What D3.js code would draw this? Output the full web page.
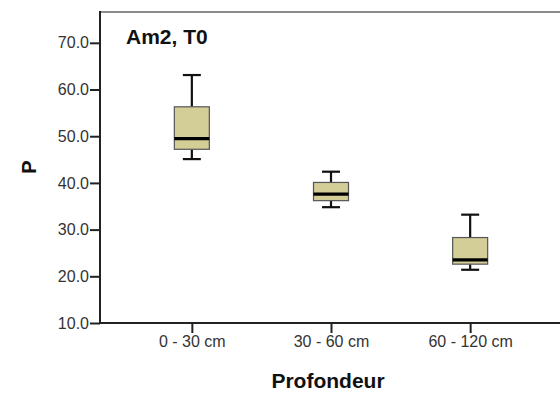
<!DOCTYPE html>
<html>
<head>
<meta charset="utf-8">
<script src="https://cdn.jsdelivr.net/npm/d3@7"></script>
<style>
  html, body { margin: 0; padding: 0; background: #fff; }
  svg { display: block; font-family: Arial, "Liberation Sans", sans-serif; }
</style>
</head>
<body>
<svg id="chart" width="560" height="394"></svg>
<script>
// Depth classes and the five-number summary of P for each
const categories = ["0 - 30 cm", "30 - 60 cm", "60 - 120 cm"];
const whiskerLow = [45.1, 34.8, 21.4];
const q1 = [47.2, 36.2, 22.6];
const median = [49.5, 37.6, 23.5];
const q3 = [56.3, 40.1, 28.3];
const whiskerHigh = [63.1, 42.4, 33.2];
const yTicks = [10, 20, 30, 40, 50, 60, 70];

const svg = d3.select("#chart");
const plotLeft = 100, plotRight = 562, plotTop = 12, plotBottom = 323;

const y = d3.scaleLinear().domain([10, 76.6]).range([plotBottom, plotTop]);
const x = d3.scalePoint().domain(categories).range([plotLeft, plotRight]).padding(0.66);

// Plot frame: grey on top and right, axes drawn separately
svg.append("path")
  .attr("d", `M${plotLeft},${plotTop}H${plotRight}V${plotBottom}`)
  .attr("fill", "none").attr("stroke", "#8c8c8c").attr("stroke-width", 2);

const yAxis = svg.append("g")
  .attr("transform", `translate(${plotLeft},0)`)
  .call(d3.axisLeft(y).tickValues(yTicks).tickFormat(d3.format(".1f")).tickSize(10).tickPadding(1));
const xAxis = svg.append("g")
  .attr("transform", `translate(0,${plotBottom})`)
  .call(d3.axisBottom(x).tickSize(10).tickPadding(3));

[yAxis, xAxis].forEach(g => {
  g.attr("font-size", null).attr("font-family", null);
  g.select(".domain").remove();
  g.selectAll("line").attr("stroke", "#222").attr("stroke-width", 2);
  g.selectAll("text").attr("fill", "#333").style("font-size", "16px");
});
svg.append("line").attr("x1", plotLeft).attr("x2", plotLeft).attr("y1", plotTop - 1).attr("y2", plotBottom + 1)
  .attr("stroke", "#222").attr("stroke-width", 2);
svg.append("line").attr("x1", plotLeft - 1).attr("x2", 560).attr("y1", plotBottom).attr("y2", plotBottom)
  .attr("stroke", "#222").attr("stroke-width", 2);

// Boxes
const boxW = 35, capW = 18;
const data = categories.map((c, i) => ({
  c, lo: whiskerLow[i], q1: q1[i], med: median[i], q3: q3[i], hi: whiskerHigh[i]
}));
const g = svg.append("g").selectAll("g").data(data).join("g")
  .attr("transform", d => `translate(${x(d.c)},0)`);

g.append("line").attr("y1", d => y(d.hi)).attr("y2", d => y(d.q3))
  .attr("stroke", "#111").attr("stroke-width", 2.2);
g.append("line").attr("y1", d => y(d.q1)).attr("y2", d => y(d.lo))
  .attr("stroke", "#111").attr("stroke-width", 2.2);
g.append("line").attr("x1", -capW / 2).attr("x2", capW / 2)
  .attr("y1", d => y(d.hi)).attr("y2", d => y(d.hi))
  .attr("stroke", "#111").attr("stroke-width", 2.2);
g.append("line").attr("x1", -capW / 2).attr("x2", capW / 2)
  .attr("y1", d => y(d.lo)).attr("y2", d => y(d.lo))
  .attr("stroke", "#111").attr("stroke-width", 2.2);
g.append("rect")
  .attr("x", -boxW / 2).attr("width", boxW)
  .attr("y", d => y(d.q3)).attr("height", d => y(d.q1) - y(d.q3))
  .attr("fill", "#d3cd98").attr("stroke", "#555").attr("stroke-width", 1.2);
g.append("line").attr("x1", -boxW / 2).attr("x2", boxW / 2)
  .attr("y1", d => y(d.med)).attr("y2", d => y(d.med))
  .attr("stroke", "#000").attr("stroke-width", 3.2);

// Titles
svg.append("text").attr("x", 126).attr("y", 44)
  .style("font-size", "21px").style("font-weight", "bold").attr("fill", "#111")
  .text("Am2, T0");
svg.append("text").attr("transform", "translate(36,167) rotate(-90)")
  .attr("text-anchor", "middle")
  .style("font-size", "20px").style("font-weight", "bold").attr("fill", "#111")
  .text("P");
svg.append("text").attr("x", 328).attr("y", 388).attr("text-anchor", "middle")
  .style("font-size", "21px").style("font-weight", "bold").attr("fill", "#111")
  .text("Profondeur");
</script>
</body>
</html>
